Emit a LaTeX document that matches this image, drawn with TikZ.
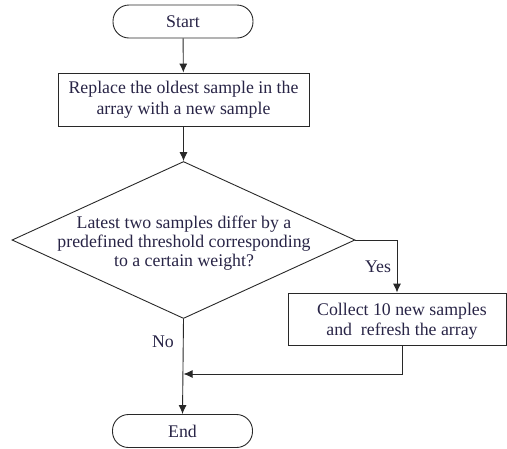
\documentclass[tikz,border=0pt]{standalone}
\usepackage{fontspec}
\setmainfont{Liberation Serif}
\usetikzlibrary{shapes.geometric,arrows.meta}
\definecolor{txt}{RGB}{40,36,70}
\definecolor{ln}{RGB}{40,40,40}
\begin{document}
\begin{tikzpicture}[x=1pt,y=1pt,
  every node/.style={text=txt,font=\fontsize{17.8}{20.5}\selectfont},
  term/.style={draw=ln,line width=0.9pt,rounded corners=16pt,minimum width=140pt,minimum height=33pt,inner sep=0pt},
  proc/.style={draw=ln,line width=0.9pt,minimum height=53pt,inner sep=0pt,align=center},
  dec/.style={draw=ln,line width=0.9pt,diamond,minimum width=343pt,minimum height=157pt,inner sep=0pt},
  plain/.style={inner sep=0pt,align=center},
  conn/.style={draw=ln,line width=0.9pt,-{Latex[length=9pt,width=8pt]}},
  line/.style={draw=ln,line width=0.9pt}]
\useasboundingbox (0,0) rectangle (507,-448);
\node[term] (start) at (183,-21.5) {Start};
\node[proc,minimum width=251pt] (replace) at (183.5,-99.5) {Replace the oldest sample in the\\array with a new sample};
\node[dec] (dec) at (183.5,-240) {};
\node[plain,font=\fontsize{17.8}{18.8}\selectfont] (dectext) at (184,-243) {Latest two samples differ by a\\predefined threshold corresponding\\to a certain weight?};
\node[proc,minimum width=218pt,minimum height=52pt] (collect) at (397,-319) {};
\node[plain,font=\fontsize{17.8}{19.5}\selectfont] (collecttext) at (402,-321) {Collect 10 new samples\\and\ \ refresh the array};
\node[term] (end) at (182.5,-431) {End};
\node[plain] (yes) at (378,-267) {Yes};
\node[plain] (no) at (163,-342) {No};
\coordinate (merge) at (183.5,-374);
\draw[conn] (start) -- (replace);
\draw[conn] (replace) -- (dec.north);
\draw[conn] (dec.east) -| (collect.north);
\draw[conn] (dec.south) -- (end.north);
\draw[conn] ([xshift=5pt]collect.south) |- (merge);
\end{tikzpicture}
\end{document}
